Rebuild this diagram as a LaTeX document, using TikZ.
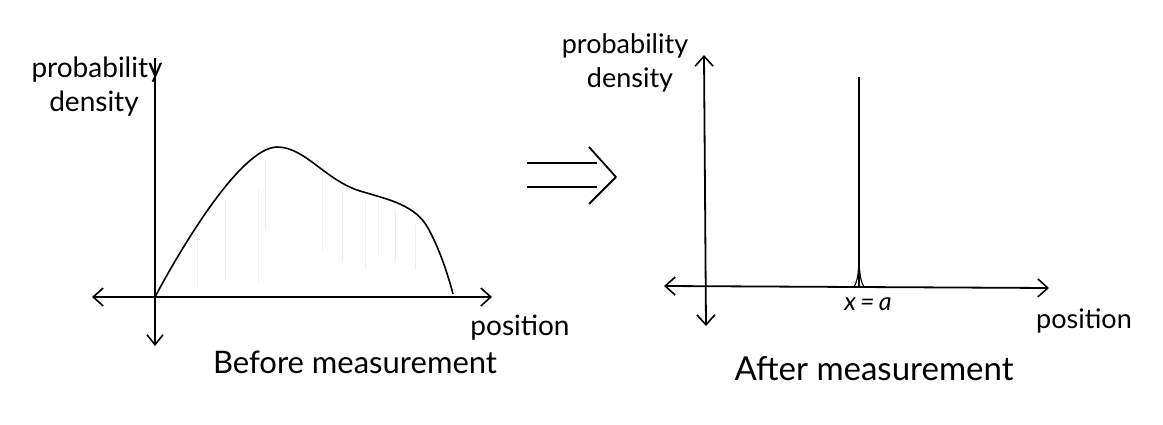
\documentclass[tikz,border=0pt]{standalone}
\usepackage{fontspec}
\setmainfont{Lato}
\usetikzlibrary{arrows.meta}
\begin{document}
\begin{tikzpicture}[x=1pt,y=-1pt,
  axis/.style={line width=1.8pt,{Straight Barb[length=10pt,width=18pt,line width=1.6pt]}-{Straight Barb[length=10pt,width=18pt,line width=1.6pt]}},
  axisdown/.style={line width=1.8pt,-{Straight Barb[length=10pt,width=16pt,line width=1.6pt]}},
  curve/.style={line width=1.6pt,line join=round},
  hatch/.style={line width=0.7pt,black!7},
  lbl/.style={inner sep=0pt,anchor=center},
  big/.style={lbl,font=\fontsize{31}{34}\selectfont},
  mid/.style={lbl,font=\fontsize{27}{30}\selectfont}]
\useasboundingbox (0,0) rectangle (1163,425);
\fill[white] (0,0) rectangle (1163,425);
% ---- left graph ----
\coordinate (lO) at (155,297);
\coordinate (lxl) at (92,297);
\coordinate (lxr) at (492,297);
\coordinate (lyt) at (155,58);
\coordinate (lyb) at (155,346);
\coordinate (cP) at (277,147);
\coordinate (cS) at (360,191);
\coordinate (cK) at (428,228);
\coordinate (cE) at (453,294);
\foreach \x/\a/\b in {197/232/287,225/200/280,258/190/282,265/160/230,322/175/250,342/185/262,365/200/270,378/200/255,395/210/262,415/225/270}
  \draw[hatch] (\x,\a) -- (\x,\b);
\draw[line width=1.8pt] (lyt) -- (lO);
\draw[axisdown] (lO) -- (lyb);
\draw[axis] (lxl) -- (lxr);
\draw[curve] (lO) .. controls (180,250) and (240,148) .. (cP)
  .. controls (305,147) and (325,180) .. (cS)
  .. controls (390,200) and (415,205) .. (cK)
  .. controls (440,250) and (448,275) .. (cE);
\node[mid,font=\fontsize{28}{30}\selectfont] (lp) at (97,70) {probability};
\node[mid,font=\fontsize{28}{30}\selectfont] (ld) at (94,104) {density};
\node[mid,font=\fontsize{28}{30}\selectfont] (lpos) at (520,328) {position};
\node[big] (lcap) at (355,362) {Before measurement};
% ---- implication arrow ----
\coordinate (i1a) at (527,163);
\coordinate (i1b) at (597,163);
\coordinate (i2a) at (527,187);
\coordinate (i2b) at (597,187);
\coordinate (ct) at (589,147);
\coordinate (cm) at (616,177);
\coordinate (cb) at (589,204);
\draw[line width=1.8pt] (i1a) -- (i1b);
\draw[line width=1.8pt] (i2a) -- (i2b);
\draw[line width=1.8pt,line join=round] (ct) -- (cm) -- (cb);
% ---- right graph ----
\coordinate (rO) at (705,286);
\coordinate (ryt) at (704,55);
\coordinate (ryb) at (706,326);
\coordinate (rxl) at (664,286);
\coordinate (rxr) at (1049,288);
\coordinate (sT) at (859,77);
\coordinate (sB) at (859,286);
\draw[axis] (ryt) -- (ryb);
\draw[axis] (rxl) -- (rxr);
\draw[line width=2.4pt] (sT) -- (sB);
\draw[line width=1.1pt] (854,287) .. controls (857,282) and (858,276) .. (858.5,268);
\draw[line width=1.1pt] (864,287) .. controls (861,282) and (860,276) .. (859.5,268);
\node[lbl,font=\fontsize{25}{28}\selectfont\itshape] (xa) at (868,304) {x\,=\,a};
\node[mid] (rp) at (625,46) {probability};
\node[mid] (rd) at (630,80) {density};
\node[mid] (rpos) at (1084,321) {position};
\node[big,font=\fontsize{33}{36}\selectfont] (rcap) at (874,369) {After measurement};
\end{tikzpicture}
\end{document}
